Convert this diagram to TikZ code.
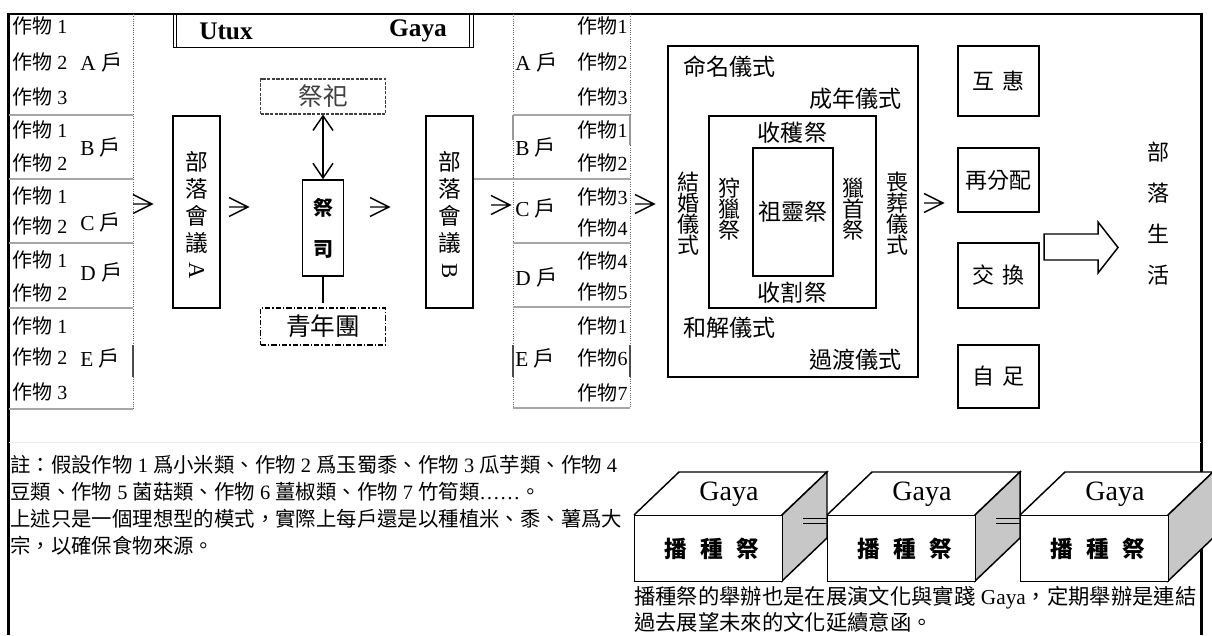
\documentclass[tikz,border=0pt]{standalone}
\usepackage{fontspec}
\usepackage{graphicx}
\setmainfont{Liberation Serif}
\newfontfamily\cjk{Noto Sans CJK TC}
\usetikzlibrary{arrows.meta}
\newcommand{\zh}[1]{{\cjk #1}}
\begin{document}
\begin{tikzpicture}[x=0.75pt,y=-0.75pt,
  box/.style={draw, line width=1.1pt, inner sep=0pt},
  wh/.style 2 args={minimum width=#1*0.75pt, minimum height=#2*0.75pt},
  crop/.style={inner sep=0pt, font=\fontsize{15}{18}\selectfont},
  lbl/.style={inner sep=0pt, font=\fontsize{16}{18}\selectfont},
  cer/.style={inner sep=0pt, font=\cjk\fontsize{17.3}{20}\selectfont},
  vcer/.style={inner sep=0pt, align=center, font=\cjk\fontsize{16.5}{15.75}\selectfont},
  tbl/.style={black!35, line width=0.8pt},
  dotb/.style={black!60, line width=0.7pt, densely dotted},
  dark/.style={black!70, line width=1.3pt},
  chev/.pic={\draw[line width=1.1pt] (0,0)--(19,0) (0,-9.5)--(19,0)--(0,9.5);},
]
\useasboundingbox (0,0) rectangle (1212,635);
% frame
\draw[line width=1.6pt] (8.5,635)--(8.5,14)--(1201.5,14)--(1201.5,635);
\draw[black!8, line width=0.6pt] (9,442)--(1201,442);

% ---------- left table
\node[crop,anchor=west] (lA1) at (12,26) {\zh{作物} 1};
\node[crop,anchor=west] (lA2) at (12,62) {\zh{作物} 2};
\node[crop,anchor=west] (lA3) at (12,97) {\zh{作物} 3};
\node[crop,anchor=west] (lB1) at (12,130) {\zh{作物} 1};
\node[crop,anchor=west] (lB2) at (12,163) {\zh{作物} 2};
\node[crop,anchor=west] (lC1) at (12,196) {\zh{作物} 1};
\node[crop,anchor=west] (lC2) at (12,226) {\zh{作物} 2};
\node[crop,anchor=west] (lD1) at (12,260) {\zh{作物} 1};
\node[crop,anchor=west] (lD2) at (12,293) {\zh{作物} 2};
\node[crop,anchor=west] (lE1) at (12,326) {\zh{作物} 1};
\node[crop,anchor=west] (lE2) at (12,357) {\zh{作物} 2};
\node[crop,anchor=west] (lE3) at (12,392) {\zh{作物} 3};
\node[lbl,anchor=west] (lA) at (80,62) {A \zh{戶}};
\node[lbl,anchor=west] (lB) at (80,147) {B \zh{戶}};
\node[lbl,anchor=west] (lC) at (80,222) {C \zh{戶}};
\node[lbl,anchor=west] (lD) at (80,272) {D \zh{戶}};
\node[lbl,anchor=west] (lE) at (80,358) {E \zh{戶}};
\draw[dotb] (133,14)--(133,409);
\foreach \y in {115,179,243,308,409} \draw[tbl] (9,\y)--(133,\y);
\draw[dark] (133,345)--(133,377);

% ---------- right table
\node[lbl,anchor=west] (rA) at (515,62) {A \zh{戶}};
\node[lbl,anchor=west] (rB) at (515,147) {B \zh{戶}};
\node[lbl,anchor=west] (rC) at (515,208) {C \zh{戶}};
\node[lbl,anchor=west] (rD) at (515,277) {D \zh{戶}};
\node[lbl,anchor=west] (rE) at (515,358) {E \zh{戶}};
\node[crop,anchor=east] (rA1) at (628,26) {\zh{作物}1};
\node[crop,anchor=east] (rA2) at (628,62) {\zh{作物}2};
\node[crop,anchor=east] (rA3) at (628,97) {\zh{作物}3};
\node[crop,anchor=east] (rB1) at (628,130) {\zh{作物}1};
\node[crop,anchor=east] (rB2) at (628,163) {\zh{作物}2};
\node[crop,anchor=east] (rC1) at (628,197) {\zh{作物}3};
\node[crop,anchor=east] (rC2) at (628,228) {\zh{作物}4};
\node[crop,anchor=east] (rD1) at (628,261) {\zh{作物}4};
\node[crop,anchor=east] (rD2) at (628,292) {\zh{作物}5};
\node[crop,anchor=east] (rE1) at (628,326) {\zh{作物}1};
\node[crop,anchor=east] (rE2) at (628,358) {\zh{作物}6};
\node[crop,anchor=east] (rE3) at (628,393) {\zh{作物}7};
\draw[dotb] (513,14)--(513,408);
\draw[dotb] (630,14)--(630,408);
\foreach \y in {115,179,243,307,408} \draw[tbl] (513,\y)--(630,\y);
\draw[black!40, line width=1pt] (513,115)--(513,140) (630,115)--(630,145);
\draw[dark] (513,345)--(513,377) (630,345)--(630,377);

% ---------- header Utux / Gaya
\node[box, wh={300}{33}, anchor=north west] (hdr) at (173,14) {};
\draw[line width=0.8pt] (176.5,14)--(176.5,47) (469.5,14)--(469.5,47);
\node[inner sep=0pt, font=\bfseries\fontsize{19}{22}\selectfont] (utux) at (226,31) {Utux};
\node[inner sep=0pt, font=\bfseries\fontsize{19}{22}\selectfont] (gaya) at (418,31) {Gaya};

% ---------- meetings, priest
\node[box, wh={47}{192}] (meetA) at (196.5,212) {};
\node[inner sep=0pt, align=center, font=\cjk\fontsize{17}{20.25}\selectfont] (meetAt) at (196.5,215)
  {部\\落\\會\\議\\{\rmfamily\rotatebox[origin=c]{-90}{A}}};
\node[box, wh={47}{192}] (meetB) at (449.5,212) {};
\node[inner sep=0pt, align=center, font=\cjk\fontsize{17}{20.25}\selectfont] (meetBt) at (449.5,215)
  {部\\落\\會\\議\\{\rmfamily\rotatebox[origin=c]{-90}{B}}};
\draw[tbl] (meetB.east |- 0,179) -- (513,179);

\node[draw, black!75, line width=0.8pt, dash pattern=on 2.5pt off 1pt, inner sep=0pt, wh={125}{35},
  font=\cjk\fontsize{18.5}{20}\selectfont] (jisi) at (323,96.5) {祭祀};
\node[box, wh={41}{96}] (priest) at (323,228) {};
\node[inner sep=0pt, align=center, font=\cjk\bfseries\fontsize{15}{30.75}\selectfont] (priestt) at (323,228.5) {祭\\司};
\node[draw, line width=0.9pt, dash pattern=on 4pt off 1.5pt on 1pt off 1.5pt, inner sep=0pt, wh={125}{37},
  font=\cjk\fontsize{18.5}{20}\selectfont] (youth) at (323,326.5) {青年團};
\draw[line width=1.1pt, {Straight Barb[length=11pt,width=15pt]}-{Straight Barb[length=11pt,width=15pt]}]
  (jisi.south) -- (priest.north);
\draw[line width=1.1pt] (priest.south) -- ([yshift=3pt]youth.north);

% chevron arrows
\pic (c1) at (133,204) {chev};
\pic (c2) at (229,207) {chev};
\pic (c3) at (370,207) {chev};
\pic (c4) at (491,205) {chev};
\pic (c5) at (635,204) {chev};
\pic (c6) at (924,203) {chev};

% ---------- ceremonies
\node[box, wh={250}{331}] (cerO) at (793,211.5) {};
\node[box, wh={167}{192}] (cerM) at (792.5,212) {};
\node[box, wh={80}{128}] (cerI) at (793,212) {};
\node[cer, anchor=west] (ming) at (683,67) {命名儀式};
\node[cer, anchor=east] (cheng) at (902,99) {成年儀式};
\node[cer, anchor=west] (hejie) at (683,328) {和解儀式};
\node[cer, anchor=east] (guodu) at (902,360) {過渡儀式};
\node[vcer] (jiehun) at (688,214) {結\\婚\\儀\\式};
\node[vcer] (sang) at (897,214) {喪\\葬\\儀\\式};
\node[cer] (shouhuo) at (792.5,133) {收穫祭};
\node[cer] (shouge) at (792.5,293) {收割祭};
\node[vcer, font=\cjk\fontsize{16.5}{16}\selectfont] (shou) at (729,209) {狩\\獵\\祭};
\node[vcer, font=\cjk\fontsize{16.5}{16}\selectfont] (lie) at (853,209) {獵\\首\\祭};
\node[cer] (zu) at (793,212) {祖靈祭};

% ---------- right boxes
\node[box, wh={81}{70}, font=\cjk\fontsize{16.5}{20}\selectfont] (hu) at (998.5,81) {互\hspace{0.35em}惠};
\node[box, wh={81}{64}, font=\cjk\fontsize{16.5}{20}\selectfont] (fen) at (998.5,180) {再分配};
\node[box, wh={81}{65}, font=\cjk\fontsize{16.5}{20}\selectfont] (jiao) at (998.5,275.5) {交\hspace{0.35em}換};
\node[box, wh={81}{63}, font=\cjk\fontsize{16.5}{20}\selectfont] (zi) at (998.5,376.5) {自\hspace{0.35em}足};
\draw[line width=1.1pt, fill=white] (1044,234)--(1098,234)--(1098,222)--(1118,247.5)--(1098,273)--(1098,260)--(1044,260)--cycle;
\node[inner sep=0pt, align=center, font=\cjk\fontsize{16.5}{30.75}\selectfont] (life) at (1158,214) {部\\落\\生\\活};

% ---------- notes
\node[inner sep=0pt, anchor=west, font=\fontsize{15.3}{18}\selectfont] (n1) at (10,465)
  {\zh{註：假設作物} 1 \zh{爲小米類、作物} 2 \zh{爲玉蜀黍、作物} 3 \zh{瓜芋類、作物} 4};
\node[inner sep=0pt, anchor=west, font=\fontsize{15.3}{18}\selectfont] (n2) at (10,492)
  {\zh{豆類、作物} 5 \zh{菌菇類、作物} 6 \zh{薑椒類、作物} 7 \zh{竹筍類}……\zh{。}};
\node[inner sep=0pt, anchor=west, font=\cjk\fontsize{15.3}{18}\selectfont] (n3) at (10,519)
  {上述只是一個理想型的模式，實際上每戶還是以種植米、黍、薯爲大};
\node[inner sep=0pt, anchor=west, font=\cjk\fontsize{15.3}{18}\selectfont] (n4) at (10,546)
  {宗，以確保食物來源。};

% ---------- 3D boxes
\foreach \x [count=\i] in {634,827,1020} {
  \fill[white] (\x,515)--(\x+45,472)--(\x+193,472)--(\x+148,515)--cycle;
  \draw[line width=1.1pt] (\x,515)--(\x+45,472)--(\x+193,472)--(\x+148,515);
  \filldraw[fill=black!22, line width=1.1pt] (\x+148,515)--(\x+193,472)--(\x+193,538)--(\x+148,581)--cycle;
  \node[box, fill=white, wh={148}{66}, anchor=north west] (fr\i) at (\x,515) {};
  \node[inner sep=0pt, font=\fontsize{21}{24}\selectfont] (g\i) at (\x+95,494) {Gaya};
  \node[inner sep=0pt, font=\cjk\bfseries\fontsize{17}{20}\selectfont] (b\i) at (\x+78,549) {播\hspace{0.6em}種\hspace{0.6em}祭};
}
\draw[line width=1.1pt] (803,518.5)--(fr2.west |- 0,518.5) (803,523.5)--(fr2.west |- 0,523.5);
\draw[line width=1.1pt] (996,518.5)--(fr3.west |- 0,518.5) (996,523.5)--(fr3.west |- 0,523.5);

\node[inner sep=0pt, anchor=west, font=\fontsize{16}{18}\selectfont] (t1) at (634,598)
  {\zh{播種祭的舉辦也是在展演文化與實踐} Gaya\zh{，定期舉辦是連結}};
\node[inner sep=0pt, anchor=west, font=\cjk\fontsize{16}{18}\selectfont] (t2) at (634,622)
  {過去展望未來的文化延續意函。};
\end{tikzpicture}
\end{document}
